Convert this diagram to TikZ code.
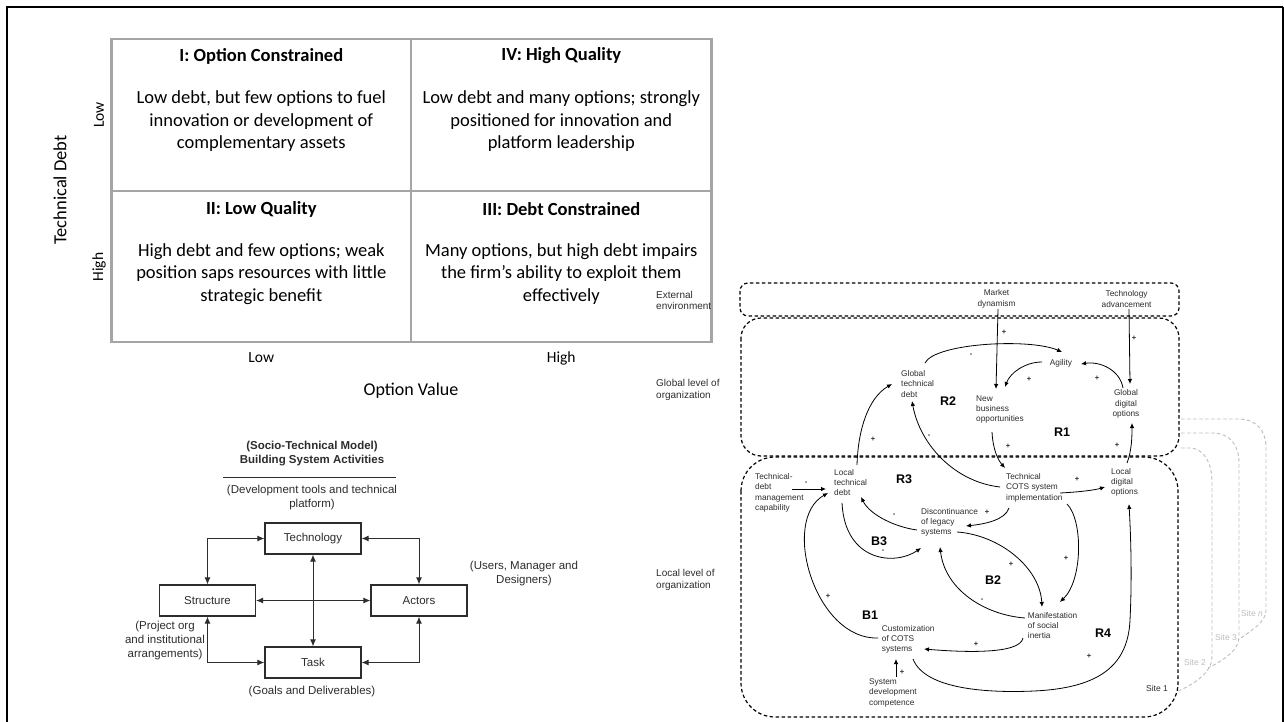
\documentclass[tikz,border=0pt]{standalone}
\usepackage{fontspec}
\setmainfont{Liberation Sans}
\newfontfamily\calib{Carlito}
\usetikzlibrary{arrows.meta,calc}
\definecolor{qgray}{RGB}{165,165,165}
\definecolor{sgray}{RGB}{190,190,190}
\definecolor{dk}{RGB}{45,45,45}
\begin{document}
\begin{tikzpicture}[x=1pt,y=-1pt,
  qh/.style={font=\calib\bfseries\fontsize{18.5}{22.5}\selectfont,inner sep=0pt},
  qt/.style={font=\calib\fontsize{18.5}{22.5}\selectfont,align=center,inner sep=0pt},
  ax/.style={font=\calib\fontsize{15.5}{18}\selectfont,inner sep=0pt},
  st/.style={font=\fontsize{11.5}{14}\selectfont,text=dk,align=center,inner sep=0pt},
  stb/.style={font=\bfseries\fontsize{11.5}{14}\selectfont,text=dk,align=center,inner sep=0pt},
  stbox/.style={draw=dk,line width=1.2pt,minimum width=96pt,minimum height=31pt,font=\fontsize{11.5}{14}\selectfont,text=dk,inner sep=0pt},
  dbl/.style={{Latex[length=7pt,width=6pt]}-{Latex[length=7pt,width=6pt]},line width=1pt,draw=dk},
  cl/.style={font=\fontsize{8.3}{10.3}\selectfont,align=left,inner sep=0pt,anchor=west,text=dk},
  clc/.style={font=\fontsize{8.3}{10.3}\selectfont,align=center,inner sep=0pt,text=dk},
  lv/.style={font=\fontsize{10}{11.7}\selectfont,align=left,inner sep=0pt,anchor=west,text=dk},
  lp/.style={font=\bfseries\fontsize{12.5}{14}\selectfont,inner sep=0pt},
  sg/.style={font=\bfseries\fontsize{7.5}{8}\selectfont,inner sep=0pt,text=dk},
  ar/.style={-{Latex[length=5pt,width=4.5pt]},line width=0.8pt,draw=black},
  dsh/.style={draw=black,line width=1.2pt,dash pattern=on 3.5pt off 2.5pt},
  sdsh/.style={draw=sgray,line width=0.9pt,dash pattern=on 3.5pt off 2.5pt},
  site/.style={font=\fontsize{8.5}{10}\selectfont,inner sep=0pt}
]
\useasboundingbox (0,0) rectangle (1284,722);
\fill[white] (0,0) rectangle (1284,722);
% frame
\draw[line width=2.2pt] (7,722) -- (7,7) -- (1283,7);
\draw[line width=1.2pt] (1283,7) -- (1283,722);

% ---------------- quadrant ----------------
\draw[qgray,line width=2.5pt] (111.6,39) rectangle (711.6,342);
\draw[qgray,line width=2.5pt] (411,39) -- (411,342);
\draw[qgray,line width=2.5pt] (111.6,191) -- (711.6,191);
\node[qh] (q1h) at (261.3,56) {I: Option Constrained};
\node[qt] (q1t) at (261.3,121.5) {Low debt, but few options to fuel\\innovation or development of\\complementary assets};
\node[qh] (q4h) at (561.3,56) {IV: High Quality};
\node[qt] (q4t) at (561.3,121.5) {Low debt and many options; strongly\\positioned for innovation and\\platform leadership};
\node[qh] (q2h) at (261.3,209) {II: Low Quality};
\node[qt] (q2t) at (261.3,274) {High debt and few options; weak\\position saps resources with little\\strategic benefit};
\node[qh] (q3h) at (561.3,209) {III: Debt Constrained};
\node[qt] (q3t) at (561.3,274) {Many options, but high debt impairs\\the firm’s ability to exploit them\\effectively};
\node[ax,rotate=90] (ylow) at (99,115) {Low};
\node[ax,rotate=90] (yhigh) at (99,267) {High};
\node[qt,rotate=90] (ylab) at (60,190) {Technical Debt};
\node[ax] (xlow) at (261.3,358) {Low};
\node[ax] (xhigh) at (561.3,358) {High};
\node[font=\calib\fontsize{18}{21}\selectfont,inner sep=0pt] (xlab) at (411,391) {Option Value};

% ---------------- socio-technical model ----------------
\node[stb] (sttitle) at (312,454) {(Socio-Technical Model)\\Building System Activities};
\draw[dk,line width=0.9pt] (223,477) -- (396,477);
\node[st] (techlab) at (312,498) {(Development tools and technical\\platform)};
\node[stbox] (tech) at (313,538.5) {Technology};
\node[stbox] (struct) at (207.5,600.5) {Structure};
\node[stbox] (actors) at (419,600.5) {Actors};
\node[stbox] (task) at (313,662.5) {Task};
\node[st] (actlab) at (524,574) {(Users, Manager and\\Designers)};
\node[st] (strlab) at (165,641) {(Project org\\and institutional\\arrangements)};
\node[st] (tasklab) at (312,692) {(Goals and Deliverables)};
\draw[dbl] (tech.west) -| (struct.north);
\draw[dbl] (tech.east) -| (actors.north);
\draw[dbl] (struct.east) -- (actors.west);
\draw[dbl] (tech.south) -- (task.north);
\draw[dbl] (struct.south) |- (task.west);
\draw[dbl] (actors.south) |- (task.east);

% ---------------- causal loop diagram ----------------
% site layers (behind)
\draw[sdsh] (1181,419) -- (1238,419) .. controls (1256,419) and (1266,430) .. (1266,448) -- (1266,610) .. controls (1266,622) and (1252,630) .. (1238,640);
\draw[sdsh] (1181,433) -- (1212,433) .. controls (1230,433) and (1239,445) .. (1239,463) -- (1239,637) .. controls (1239,650) and (1224,660) .. (1208,668);
\draw[sdsh] (1181,448) -- (1190,448) .. controls (1203,448) and (1212,462) .. (1212,482) -- (1212,657) .. controls (1212,672) and (1195,684) .. (1176,692);
\node[site,text=sgray] (siten) at (1252,613) {Site \textit{n}};
\node[site,text=sgray] (site3) at (1226,637) {Site 3};
\node[site,text=sgray] (site2) at (1195,662) {Site 2};
\node[site,text=dk] (site1) at (1157,688) {Site 1};

% boxes
\draw[dsh,rounded corners=8pt] (740,283) rectangle (1179,316);
\draw[dsh,rounded corners=20pt] (741,318) rectangle (1179,456);
\draw[dsh,rounded corners=34pt] (741,457) rectangle (1178,717);

% level labels
\node[lv] (extlab) at (656,300.5) {External\\environment};
\node[lv] (glolab) at (656,390) {Global level of\\organization};
\node[lv] (loclab) at (656,580) {Local level of\\organization};

% nodes
\node[clc] (market) at (996.5,299) {Market\\dynamism};
\node[clc] (techadv) at (1126.6,299) {Technology\\advancement};
\node[cl] (gtd) at (901,384) {Global\\technical\\debt};
\node[clc] (agility) at (1061,363) {Agility};
\node[cl] (newbiz) at (976,409.5) {New\\business\\opportunities};
\node[clc] (gdo) at (1126,404) {Global\\digital\\options};
\node[cl] (tdm) at (755,492.8) {Technical-\\debt\\management\\capability};
\node[cl] (ltd) at (834,482.7) {Local\\technical\\debt};
\node[cl] (disc) at (921,522.4) {Discontinuance\\of legacy\\systems};
\node[cl] (cots) at (1006,487.6) {Technical\\COTS system\\implementation};
\node[cl] (ldo) at (1111,482.3) {Local\\digital\\options};
\node[cl] (manif) at (1027.7,625.7) {Manifestation\\of social\\inertia};
\node[cl] (custom) at (881.7,639.3) {Customization\\of COTS\\systems};
\node[cl] (sysdev) at (869,692.7) {System\\development\\competence};

% loop labels
\node[lp] (R2) at (948,401) {R2};
\node[lp] (R1) at (1062,432) {R1};
\node[lp] (R3) at (904,479) {R3};
\node[lp] (B3) at (879,541) {B3};
\node[lp] (B2) at (993,580) {B2};
\node[lp] (B1) at (870,615) {B1};
\node[lp] (R4) at (1103,633) {R4};

% connectors (named end coordinates next to the nodes)
\coordinate (mktS) at (998,309);
\coordinate (nbT) at (996,389);
\coordinate (taS) at (1129,309);
\coordinate (gdoT) at (1130,384);
\coordinate (gtdA) at (925,363);
\coordinate (agW) at (1062,352);
\coordinate (agL) at (1042,362);
\coordinate (nbT2) at (1005,387);
\coordinate (gdoTop) at (1123,388);
\coordinate (agE) at (1081,364);
\coordinate (ltdT) at (857,465);
\coordinate (gtdW) at (892,384);
\coordinate (cotsL) at (1000,487);
\coordinate (gtdB) at (912,401);
\coordinate (nbB) at (992,432);
\coordinate (cotsT) at (1005,468);
\coordinate (ldoT) at (1127,463);
\coordinate (gdoB) at (1132,423);
\coordinate (tdmE) at (792,489);
\coordinate (ltdW) at (826,489);
\coordinate (discL) at (917,530);
\coordinate (ltdR) at (861,497);
\coordinate (ltdB) at (842,503);
\coordinate (discW) at (921,548);
\coordinate (cotsB) at (1009,508);
\coordinate (discE) at (966,526);
\coordinate (discR) at (957,532);
\coordinate (manT) at (1042,607);
\coordinate (manL) at (1025,618);
\coordinate (discB) at (940,547);
\coordinate (cotsBR) at (1067,504);
\coordinate (manTR) at (1060,602);
\coordinate (cotsR) at (1060,493);
\coordinate (ldoW) at (1105,487);
\coordinate (custL) at (878,638);
\coordinate (ltdL) at (828,493);
\coordinate (sysT) at (896,677);
\coordinate (custB) at (896,659);
\coordinate (manB) at (1023,638);
\coordinate (custR) at (924,649);
\coordinate (custBR) at (913,659);
\coordinate (ldoB) at (1129,504);

\draw[ar] (mktS) -- (nbT);
\draw[ar] (taS) -- (gdoT);
\draw[ar] (gtdA) .. controls (935,343) and (1030,338) .. (agW);
\draw[ar] (agL) .. controls (1025,362) and (1010,373) .. (nbT2);
\draw[ar] (gdoTop) .. controls (1120,370) and (1100,361) .. (agE);
\draw[ar] (ltdT) .. controls (858,430) and (868,398) .. (gtdW);
\draw[ar] (cotsL) .. controls (955,482) and (920,445) .. (gtdB);
\draw[ar] (nbB) .. controls (993,450) and (998,460) .. (cotsT);
\draw[ar] (ldoT) .. controls (1132,450) and (1132,435) .. (gdoB);
\draw[ar] (tdmE) -- (ltdW);
\draw[ar] (discL) .. controls (895,527) and (870,515) .. (ltdR);
\draw[ar] (ltdB) .. controls (845,562) and (895,566) .. (discW);
\draw[ar] (cotsB) .. controls (1005,520) and (985,524) .. (discE);
\draw[ar] (discR) .. controls (1000,535) and (1040,568) .. (manT);
\draw[ar] (manL) .. controls (985,615) and (945,590) .. (discB);
\draw[ar] (cotsBR) .. controls (1083,520) and (1083,580) .. (manTR);
\draw[ar] (cotsR) .. controls (1080,492) and (1095,490) .. (ldoW);
\draw[ar] (custL) .. controls (815,640) and (780,520) .. (ltdL);
\draw[ar] (sysT) -- (custB);
\draw[ar] (manB) .. controls (1020,655) and (960,652) .. (custR);
\draw[ar] (custBR) .. controls (925,690) and (990,693) .. (1034,691) .. controls (1100,688) and (1128,665) .. (1130,620) .. controls (1132,580) and (1131,540) .. (ldoB);

% signs
\node[sg] at (1004,332) {+};
\node[sg] at (971,355) {-};
\node[sg] at (1029,379) {+};
\node[sg] at (1097,378) {+};
\node[sg] at (1134,338) {+};
\node[sg] at (873,439) {+};
\node[sg] at (929,436) {-};
\node[sg] at (1008,446) {+};
\node[sg] at (1117,445) {+};
\node[sg] at (806,483) {-};
\node[sg] at (894,515) {-};
\node[sg] at (987,512) {+};
\node[sg] at (883,551) {-};
\node[sg] at (828,596) {+};
\node[sg] at (902,672) {+};
\node[sg] at (976,644) {+};
\node[sg] at (1089,656) {+};
\node[sg] at (1011,564) {+};
\node[sg] at (982,600) {-};
\node[sg] at (1066,558) {+};
\node[sg] at (1077,479) {+};
\end{tikzpicture}
\end{document}
